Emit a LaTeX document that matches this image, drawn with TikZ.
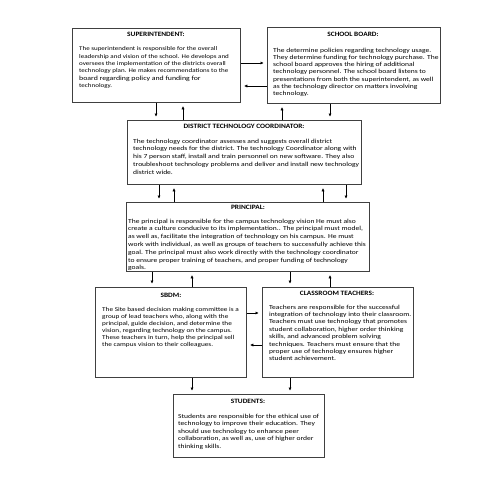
\documentclass[tikz,border=0pt]{standalone}
\usepackage{fontspec}
\setmainfont{Carlito}
\newfontfamily\bodyfont[FakeStretch=1.22]{Carlito}
\newfontfamily\titlefont[FakeStretch=1.12]{Carlito}
\usetikzlibrary{arrows.meta}
\begin{document}
\begin{tikzpicture}[x=1pt,y=-1pt,
 box/.style={draw=black!75, line width=0.8pt, anchor=north west, inner sep=0pt, fill=white},
 ttl/.style={font=\titlefont\fontsize{6.6}{7.5}\selectfont\bfseries, inner sep=0pt, anchor=base},
 body/.style={font=\bodyfont\fontsize{6.2}{#1}\selectfont, align=left, inner sep=0pt, anchor=north west},
 body/.default=7.3,
 arr/.style={-{Triangle[length=3pt,width=2.8pt]}, line width=0.6pt, shorten >=3.5pt}
]
\useasboundingbox[fill=white] (0,0) rectangle (495,495);

% boxes
\node[box, minimum width=168pt, minimum height=74pt] (si) at (72,28) {};
\node[box, minimum width=173pt, minimum height=76pt] (sb) at (267,27) {};
\node[box, minimum width=234pt, minimum height=64pt] (dtc) at (127,120) {};
\node[box, minimum width=243pt, minimum height=69pt] (pr) at (126,202) {};
\node[box, minimum width=151pt, minimum height=90pt] (sbdm) at (95,287) {};
\node[box, minimum width=151pt, minimum height=90pt] (ct) at (262,287) {};
\node[box, minimum width=151pt, minimum height=63pt] (st) at (173,394) {};

% titles
\node[ttl] (tsi) at (156,37) {SUPERINTENDENT:};
\node[ttl] (tsb) at (353,37) {SCHOOL BOARD:};
\node[ttl] (tdtc) at (244,128) {DISTRICT TECHNOLOGY COORDINATOR:};
\node[ttl] (tpr) at (248,209) {PRINCIPAL:};
\node[ttl] (tsbdm) at (171,297) {SBDM:};
\node[ttl] (tct) at (337,295) {CLASSROOM TEACHERS:};
\node[ttl] (tst) at (248,403) {STUDENTS:};

% bodies
\node[body, font=\bodyfont\fontsize{5.75}{7.3}\selectfont] (bsi) at (79,46.8) {The superintendent is responsible for the overall\\
leadership and vision of the school. He develops and\\
oversees the implementation of the districts overall\\
technology plan. He makes recommendations to the\\
{\fontsize{6.4}{8}\selectfont board regarding policy and funding for}\\
technology.};
\node[body] (bsb) at (273,47.5) {The determine policies regarding technology usage.\\
They determine funding for technology purchase. The\\
school board approves the hiring of additional\\
technology personnel. The school board listens to\\
presentations from both the superintendent, as well\\
as the technology director on matters involving\\
technology.};
\node[body=7.8] (bdtc) at (133,138.5) {The technology coordinator assesses and suggests overall district\\
technology needs for the district. The technology Coordinator along with\\
his 7 person staff, install and train personnel on new software. They also\\
troubleshoot technology problems and deliver and install new technology\\
district wide.};
\begin{scope}
\clip (pr.north west) rectangle (pr.south east);
\node[body=7.8] (bpr) at (128,218.5) {The principal is responsible for the campus technology vision He must also\\
create a culture conducive to its implementation.. The principal must model,\\
as well as, facilitate the integration of technology on his campus. He must\\
work with individual, as well as groups of teachers to successfully achieve this\\
goal. The principal must also work directly with the technology coordinator\\
to ensure proper training of teachers, and proper funding of technology\\
goals.};
\end{scope}
\node[body=7.1, font=\bodyfont\fontsize{5.95}{7.1}\selectfont] (bsbdm) at (102,306.7) {The Site based decision making committee is a\\
group of lead teachers who, along with the\\
principal, guide decision, and determine the\\
vision, regarding technology on the campus.\\
These teachers in turn, help the principal sell\\
the campus vision to their colleagues.};
\node[body=7.4] (bct) at (269,304.5) {Teachers are responsible for the successful\\
integration of technology into their classroom.\\
Teachers must use technology that promotes\\
student collaboration, higher order thinking\\
skills, and advanced problem solving\\
techniques. Teachers must ensure that the\\
proper use of technology ensures higher\\
student achievement.};
\node[body=7.6] (bst) at (178,413.5) {Students are responsible for the ethical use of\\
technology to improve their education. They\\
should use technology to enhance peer\\
collaboration, as well as, use of higher order\\
thinking skills.};

% connectors
\draw[arr] (si.east |- 0,63) -- (sb.west |- 0,63);
\draw[arr] (sb.west |- 0,86) -- (si.east |- 0,86);
\draw[arr] (156,0 |- si.south) -- (156,0 |- dtc.north);
\draw[arr] (183,0 |- dtc.north) -- (183,0 |- si.south);
\draw[arr] (282,0 |- dtc.north) -- (282,0 |- sb.south);
\draw[arr] (330,0 |- sb.south) -- (330,0 |- dtc.north);
\draw[arr] (159,0 |- dtc.south) -- (159,0 |- pr.north);
\draw[arr] (174,0 |- pr.north) -- (174,0 |- dtc.south);
\draw[arr] (323,0 |- pr.north) -- (323,0 |- dtc.south);
\draw[arr] (346,0 |- dtc.south) -- (346,0 |- pr.north);
\draw[arr] (152,0 |- pr.south) -- (152,0 |- sbdm.north);
\draw[arr] (192,0 |- sbdm.north) -- (192,0 |- pr.south);
\draw[arr] (290,0 |- pr.south) -- (290,0 |- ct.north);
\draw[arr] (330,0 |- ct.north) -- (330,0 |- pr.south);
\draw[arr] (sbdm.east |- 0,313) -- (ct.west |- 0,313);
\draw[arr] (ct.west |- 0,345) -- (sbdm.east |- 0,345);
\draw[arr] (192,0 |- sbdm.south) -- (192,0 |- st.north);
\draw[arr] (290,0 |- ct.south) -- (290,0 |- st.north);
\end{tikzpicture}
\end{document}
